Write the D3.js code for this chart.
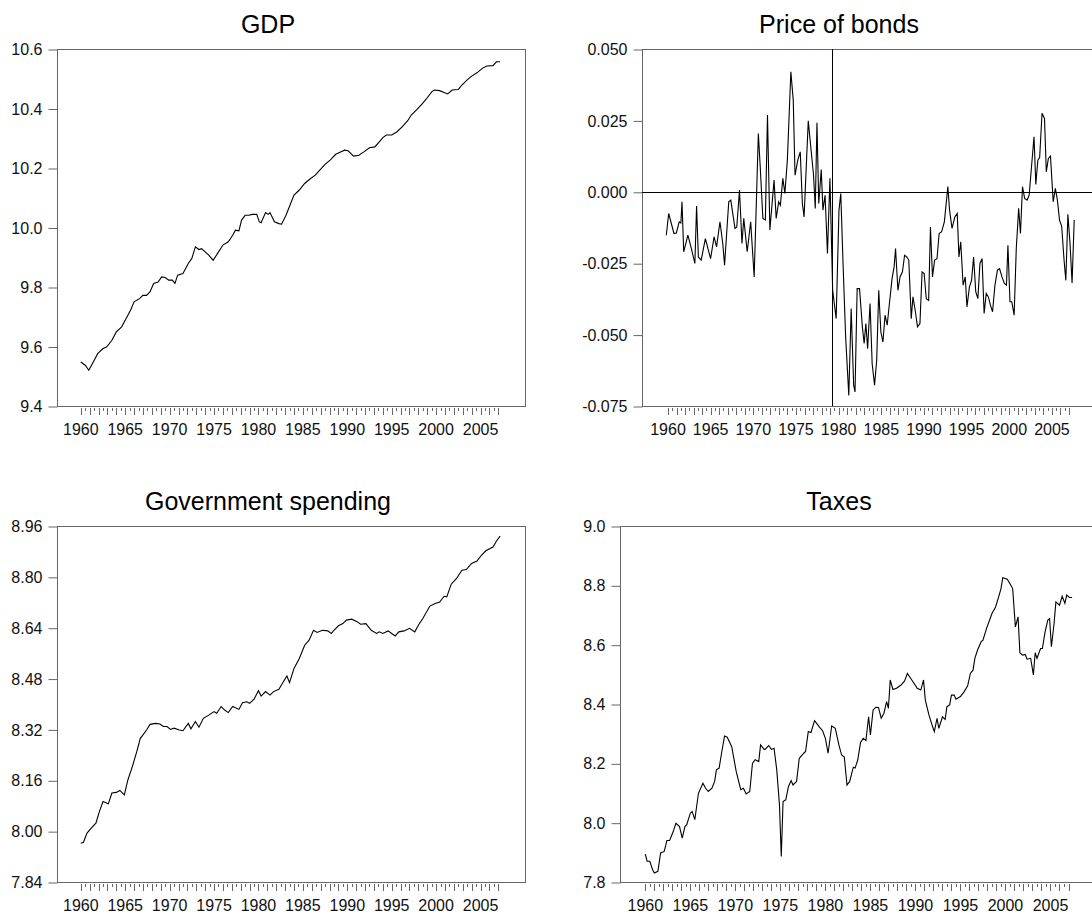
<!DOCTYPE html>
<html><head><meta charset="utf-8">
<script src="https://cdn.jsdelivr.net/npm/d3@7"></script>
<style>body{margin:0;background:#fff}svg{display:block;font-family:"Liberation Sans",Arial,sans-serif}</style>
</head><body><svg id="c" width="1092" height="921"></svg>
<script>
const gdpYears=[1960.0,1960.5,1960.9,1961.3,1961.9,1962.5,1962.9,1963.5,1964.0,1964.6,1965.0,1965.6,1966.0,1966.6,1967.0,1967.4,1967.8,1968.2,1968.7,1969.1,1969.5,1969.9,1970.3,1970.6,1970.9,1971.5,1972.1,1972.5,1972.9,1973.3,1973.6,1974.0,1974.4,1974.9,1975.4,1976.0,1976.6,1977.1,1977.4,1977.8,1978.1,1978.5,1978.9,1979.3,1979.8,1980.1,1980.3,1980.8,1981.1,1981.3,1981.8,1982.3,1982.6,1983.1,1983.6,1984.0,1984.6,1985.2,1985.8,1986.4,1986.9,1987.5,1988.1,1988.7,1989.3,1989.7,1990.1,1990.7,1991.3,1991.9,1992.5,1993.1,1993.6,1994.0,1994.4,1995.0,1995.6,1996.2,1996.8,1997.2,1997.8,1998.4,1998.9,1999.5,1999.8,2000.4,2000.9,2001.3,2001.8,2002.5,2002.9,2003.5,2004.0,2004.6,2005.2,2005.7,2006.4,2006.8,2007.2];
const gdpValues=[9.548,9.537,9.520,9.542,9.576,9.593,9.598,9.621,9.649,9.666,9.688,9.722,9.750,9.761,9.772,9.772,9.784,9.812,9.817,9.834,9.832,9.823,9.823,9.812,9.840,9.845,9.879,9.896,9.935,9.926,9.929,9.918,9.907,9.890,9.913,9.941,9.952,9.974,9.991,9.989,10.025,10.041,10.041,10.044,10.044,10.019,10.016,10.050,10.044,10.050,10.019,10.013,10.011,10.041,10.079,10.109,10.126,10.148,10.163,10.176,10.193,10.212,10.227,10.246,10.255,10.260,10.258,10.240,10.243,10.255,10.268,10.271,10.288,10.302,10.311,10.311,10.322,10.339,10.359,10.378,10.395,10.415,10.432,10.456,10.462,10.460,10.454,10.449,10.462,10.464,10.479,10.496,10.509,10.520,10.535,10.543,10.544,10.557,10.557];

const bondYears=[1959.80,1960.08,1960.70,1960.98,1961.31,1961.51,1961.64,1961.84,1962.33,1962.74,1963.15,1963.35,1963.56,1963.89,1964.38,1964.99,1965.40,1965.69,1966.09,1966.42,1966.63,1967.12,1967.36,1967.85,1968.06,1968.38,1968.67,1968.88,1969.28,1969.69,1970.10,1970.59,1970.80,1971.12,1971.41,1971.66,1971.94,1972.43,1972.68,1972.97,1973.17,1973.46,1973.70,1973.99,1974.40,1974.68,1974.89,1975.21,1975.50,1975.75,1975.95,1976.44,1976.73,1977.06,1977.26,1977.46,1977.67,1977.96,1978.16,1978.41,1978.69,1978.98,1979.30,1979.71,1980.04,1980.25,1980.53,1980.82,1981.19,1981.47,1981.76,1981.92,1982.17,1982.45,1982.78,1982.99,1983.19,1983.40,1983.68,1983.93,1984.21,1984.46,1984.70,1984.95,1985.19,1985.44,1985.69,1985.93,1986.26,1986.50,1986.67,1986.95,1987.20,1987.48,1987.73,1987.98,1988.22,1988.51,1988.71,1989.00,1989.24,1989.53,1989.78,1990.02,1990.27,1990.55,1990.76,1991.00,1991.25,1991.53,1991.78,1992.07,1992.39,1992.80,1993.00,1993.29,1993.62,1993.90,1994.10,1994.31,1994.59,1994.84,1995.04,1995.33,1995.58,1995.82,1996.07,1996.32,1996.56,1996.81,1997.05,1997.30,1997.55,1997.79,1998.04,1998.32,1998.61,1998.86,1999.14,1999.43,1999.67,1999.84,2000.08,2000.29,2000.57,2000.82,2001.10,2001.31,2001.55,2001.80,2002.09,2002.33,2002.62,2002.90,2003.11,2003.35,2003.56,2003.84,2004.13,2004.34,2004.58,2004.83,2005.15,2005.40,2005.64,2005.89,2006.14,2006.42,2006.63,2006.87,2007.12,2007.36,2007.61];
const bondValues=[-0.0152,-0.0076,-0.0146,-0.0144,-0.0105,-0.0109,-0.0035,-0.0210,-0.0152,-0.0199,-0.0251,-0.0050,-0.0228,-0.0239,-0.0164,-0.0234,-0.0158,-0.0193,-0.0105,-0.0181,-0.0257,-0.0035,-0.0029,-0.0128,-0.0123,0.0006,-0.0181,-0.0093,-0.0210,-0.0105,-0.0298,0.0204,0.0093,-0.0093,-0.0099,0.0269,-0.0134,0.0041,-0.0093,-0.0035,-0.0047,0.0047,-0.0006,0.0111,0.0420,0.0321,0.0058,0.0111,0.0140,-0.0041,-0.0088,0.0249,0.0158,0.0058,-0.0058,0.0242,-0.0041,0.0078,-0.0064,-0.0012,-0.0216,0.0047,-0.0345,-0.0444,-0.0064,-0.0006,-0.0263,-0.0508,-0.0713,-0.0409,-0.0677,-0.0701,-0.0339,-0.0339,-0.0473,-0.0531,-0.0461,-0.0549,-0.0391,-0.0602,-0.0677,-0.0590,-0.0345,-0.0491,-0.0526,-0.0432,-0.0467,-0.0397,-0.0304,-0.0263,-0.0199,-0.0345,-0.0298,-0.0280,-0.0222,-0.0228,-0.0239,-0.0444,-0.0368,-0.0420,-0.0473,-0.0461,-0.0280,-0.0286,-0.0374,-0.0380,-0.0123,-0.0298,-0.0239,-0.0234,-0.0146,-0.0140,-0.0105,0.0018,-0.0064,-0.0128,-0.0088,-0.0076,-0.0228,-0.0175,-0.0327,-0.0298,-0.0403,-0.0333,-0.0310,-0.0228,-0.0350,-0.0374,-0.0251,-0.0234,-0.0426,-0.0356,-0.0368,-0.0397,-0.0420,-0.0327,-0.0274,-0.0269,-0.0298,-0.0321,-0.0327,-0.0187,-0.0385,-0.0385,-0.0432,-0.0199,-0.0058,-0.0146,0.0018,-0.0023,-0.0029,-0.0012,0.0093,0.0193,0.0026,0.0111,0.0120,0.0275,0.0257,0.0070,0.0117,0.0125,-0.0035,0.0012,-0.0029,-0.0099,-0.0120,-0.0239,-0.0310,-0.0079,-0.0181,-0.0319,-0.0099];

const govYears=[1960.0,1960.3,1960.7,1961.2,1961.7,1962.1,1962.5,1963.1,1963.5,1964.0,1964.4,1964.9,1965.3,1965.8,1966.3,1966.7,1967.0,1967.4,1967.8,1968.4,1968.9,1969.3,1969.7,1970.1,1970.5,1971.1,1971.5,1972.1,1972.4,1972.9,1973.3,1973.8,1974.4,1975.0,1975.3,1975.8,1976.2,1976.6,1977.1,1977.8,1978.2,1978.7,1979.0,1979.5,1980.0,1980.3,1980.8,1981.3,1981.7,1982.3,1982.7,1983.2,1983.5,1984.0,1984.6,1985.2,1985.7,1986.2,1986.6,1987.2,1987.8,1988.2,1988.5,1989.0,1989.5,1989.9,1990.5,1991.1,1991.5,1992.1,1992.7,1993.3,1993.6,1994.0,1994.6,1995.0,1995.4,1995.8,1996.4,1997.0,1997.6,1998.0,1998.5,1999.3,1999.9,2000.4,2000.9,2001.2,2001.7,2002.3,2002.9,2003.4,2004.0,2004.6,2005.1,2005.6,2006.4,2006.8,2007.2];
const govValues=[7.962,7.965,7.994,8.010,8.025,8.062,8.093,8.086,8.120,8.122,8.128,8.114,8.161,8.203,8.250,8.292,8.303,8.318,8.336,8.339,8.337,8.329,8.329,8.320,8.324,8.318,8.316,8.339,8.322,8.345,8.327,8.355,8.365,8.376,8.371,8.392,8.381,8.373,8.392,8.383,8.404,8.407,8.402,8.415,8.442,8.425,8.439,8.428,8.439,8.446,8.465,8.488,8.467,8.512,8.543,8.585,8.601,8.632,8.625,8.632,8.630,8.622,8.632,8.646,8.653,8.664,8.667,8.659,8.651,8.653,8.632,8.622,8.627,8.622,8.630,8.622,8.614,8.627,8.630,8.638,8.627,8.648,8.669,8.708,8.716,8.721,8.739,8.737,8.777,8.795,8.821,8.823,8.842,8.850,8.868,8.882,8.894,8.913,8.928];

const taxYears=[1960.0,1960.2,1960.5,1960.8,1961.0,1961.4,1961.7,1962.1,1962.4,1962.7,1963.1,1963.4,1963.8,1964.1,1964.4,1964.6,1965.0,1965.2,1965.5,1965.9,1966.4,1966.7,1967.0,1967.4,1967.7,1967.9,1968.2,1968.5,1968.8,1969.1,1969.6,1970.1,1970.6,1970.9,1971.2,1971.6,1971.9,1972.2,1972.6,1972.8,1973.2,1973.3,1973.7,1974.0,1974.3,1974.6,1974.9,1975.1,1975.3,1975.6,1975.9,1976.2,1976.4,1976.8,1977.1,1977.6,1977.8,1978.1,1978.4,1978.8,1979.3,1979.7,1980.0,1980.3,1980.7,1981.1,1981.5,1981.8,1982.1,1982.4,1982.7,1983.1,1983.3,1983.6,1983.9,1984.2,1984.5,1984.8,1985.0,1985.3,1985.6,1985.9,1986.2,1986.5,1986.8,1987.0,1987.2,1987.5,1987.9,1988.4,1988.8,1989.1,1989.6,1990.2,1990.6,1990.9,1991.1,1991.5,1991.9,1992.1,1992.4,1992.6,1993.0,1993.3,1993.5,1993.8,1994.0,1994.3,1994.5,1995.0,1995.4,1995.8,1996.1,1996.4,1996.6,1996.9,1997.3,1997.5,1997.9,1998.5,1998.9,1999.3,1999.5,1999.7,2000.2,2000.6,2000.8,2001.1,2001.4,2001.6,2001.9,2002.2,2002.4,2002.8,2003.1,2003.3,2003.5,2003.9,2004.1,2004.4,2004.7,2004.9,2005.1,2005.4,2005.6,2006.0,2006.3,2006.6,2006.8,2007.1,2007.4];
const taxValues=[7.894,7.870,7.870,7.842,7.830,7.836,7.898,7.903,7.940,7.940,7.970,7.998,7.987,7.948,7.987,7.993,8.032,8.038,8.010,8.099,8.133,8.116,8.105,8.116,8.139,8.178,8.184,8.240,8.292,8.288,8.256,8.172,8.111,8.116,8.097,8.105,8.200,8.212,8.206,8.262,8.247,8.247,8.260,8.247,8.251,8.178,8.060,7.886,8.071,8.077,8.122,8.142,8.127,8.139,8.217,8.234,8.240,8.307,8.304,8.344,8.324,8.309,8.284,8.234,8.326,8.318,8.262,8.228,8.221,8.127,8.139,8.187,8.184,8.212,8.270,8.284,8.277,8.357,8.296,8.380,8.389,8.388,8.352,8.369,8.408,8.385,8.481,8.449,8.453,8.464,8.478,8.503,8.481,8.453,8.447,8.481,8.413,8.363,8.324,8.307,8.352,8.318,8.357,8.348,8.391,8.397,8.430,8.430,8.416,8.425,8.441,8.461,8.503,8.514,8.554,8.582,8.610,8.615,8.655,8.705,8.727,8.767,8.789,8.826,8.821,8.800,8.789,8.660,8.694,8.573,8.565,8.567,8.551,8.554,8.498,8.573,8.554,8.587,8.587,8.643,8.683,8.688,8.593,8.672,8.744,8.733,8.763,8.739,8.767,8.759,8.759];

const yearLabels=[1960,1965,1970,1975,1980,1985,1990,1995,2000,2005];
const gdpTicks=[9.4,9.6,9.8,10.0,10.2,10.4,10.6];
const bondTicks=[-0.075,-0.050,-0.025,0.000,0.025,0.050];
const govTicks=[7.84,8.00,8.16,8.32,8.48,8.64,8.80,8.96];
const taxTicks=[7.8,8.0,8.2,8.4,8.6,8.8,9.0];
const bondVLine=1979.25;

const panels=[
 {title:"GDP",xs:gdpYears,ys:gdpValues,ticks:gdpTicks,dec:1,box:[57,49,525,406],x0:80.8,x1:498.3,tx:268},
 {title:"Price of bonds",xs:bondYears,ys:bondValues,ticks:bondTicks,dec:3,box:[642,49,1100,406],x0:668,x1:1069,tx:839,zero:true,vline:bondVLine},
 {title:"Government spending",xs:govYears,ys:govValues,ticks:govTicks,dec:2,box:[57,526,525,882],x0:80.8,x1:498.3,tx:268},
 {title:"Taxes",xs:taxYears,ys:taxValues,ticks:taxTicks,dec:1,box:[620,526,1100,882],x0:645.3,x1:1068.5,tx:839}
];
const svg=d3.select("#c");
const gray="#666";
panels.forEach(p=>{
  const [L,T,R,B]=p.box;
  const x=d3.scaleLinear().domain([1960,2007]).range([p.x0,p.x1]);
  const y=d3.scaleLinear().domain(d3.extent(p.ticks)).range([B,T]);
  const g=svg.append("g");
  g.append("text").attr("x",p.tx).attr("y",T-16).attr("text-anchor","middle").attr("font-size",25).text(p.title);
  g.append("rect").attr("x",L+0.5).attr("y",T+0.5).attr("width",R-L).attr("height",B-T).attr("fill","none").attr("stroke",gray);
  // y axis
  const ya=g.append("g").attr("transform",`translate(${L+0.5},0.5)`)
    .call(d3.axisLeft(y).tickValues(p.ticks).tickSize(9).tickPadding(6).tickFormat(v=>v.toFixed(p.dec)));
  ya.select(".domain").remove();
  ya.selectAll("line").attr("stroke",gray);
  ya.selectAll("text").attr("font-size",16).attr("fill","#111").attr("font-family","Liberation Sans, Arial, sans-serif");
  // x ticks (half-year)
  const half=d3.range(1960,2007.01,0.5);
  g.append("g").selectAll("line").data(half).join("line")
    .attr("x1",d=>Math.round(x(d))+0.5).attr("x2",d=>Math.round(x(d))+0.5)
    .attr("y1",B+2).attr("y2",d=>B+2+(d%1===0?7:3)).attr("stroke",gray);
  g.append("g").selectAll("text").data(yearLabels).join("text")
    .attr("x",d=>x(d)).attr("y",B+29).attr("text-anchor","middle").attr("font-size",16).attr("fill","#111").text(d=>d);
  const clip="clip"+p.title.replace(/\s/g,"");
  g.append("clipPath").attr("id",clip).append("rect").attr("x",L).attr("y",T).attr("width",R-L).attr("height",B-T);
  if(p.zero){
    g.append("line").attr("x1",L).attr("x2",R).attr("y1",Math.round(y(0))+0.5).attr("y2",Math.round(y(0))+0.5).attr("stroke","#000");
  }
  if(p.vline){
    g.append("line").attr("x1",Math.round(x(p.vline))+0.5).attr("x2",Math.round(x(p.vline))+0.5).attr("y1",T).attr("y2",B).attr("stroke","#000");
  }
  const line=d3.line().x((d,i)=>x(p.xs[i])).y(d=>y(d));
  g.append("path").datum(p.ys).attr("d",line).attr("fill","none").attr("stroke","#000").attr("stroke-width",1.1).attr("clip-path",`url(#${clip})`);
});
</script></body></html>
